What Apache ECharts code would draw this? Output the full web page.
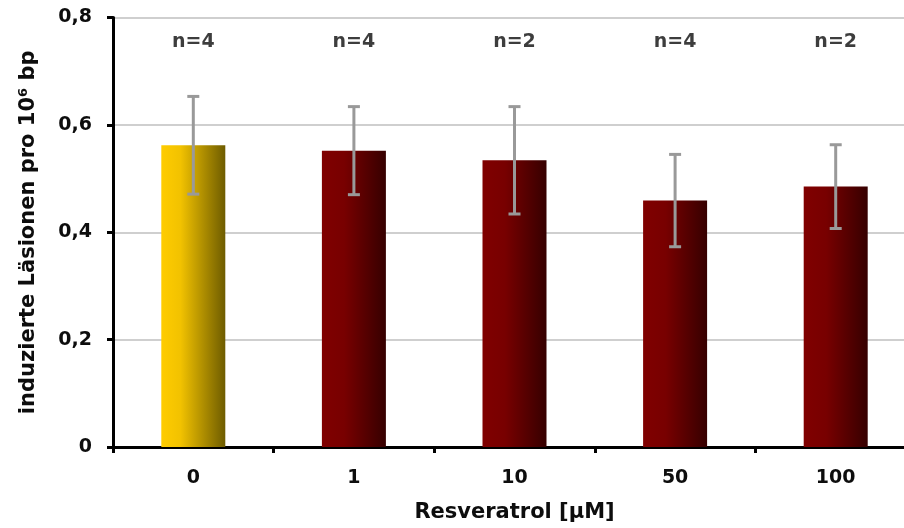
<!DOCTYPE html>
<html>
<head>
<meta charset="utf-8">
<script src="https://cdn.jsdelivr.net/npm/echarts@6/dist/echarts.min.js"></script>
<style>html,body{margin:0;padding:0;background:#fff;overflow:hidden;width:904px;height:528px}#c{width:920px;height:528px}</style>
</head>
<body>
<div id="c"></div>
<script>
const categories = ['0', '1', '10', '50', '100'];
const means = [0.562, 0.552, 0.534, 0.459, 0.485];
const errors = [0.091, 0.082, 0.100, 0.086, 0.078];
const nLabels = ['n=4', 'n=4', 'n=2', 'n=4', 'n=2'];
const yTicks = [0, 0.2, 0.4, 0.6, 0.8];
const nLabelLevel = 0.755;

const FONT = "'DejaVu Sans', sans-serif";
const TXT = '#0d0d0d';
const yellowGrad = new echarts.graphic.LinearGradient(0, 0, 1, 0, [
  {offset: 0, color: '#FFCC00'}, {offset: 0.3, color: '#F2C200'}, {offset: 1, color: '#6E5C00'}
]);
const redGrad = new echarts.graphic.LinearGradient(0, 0, 1, 0, [
  {offset: 0, color: '#800000'}, {offset: 0.35, color: '#780000'}, {offset: 1, color: '#360000'}
]);

const chart = echarts.init(document.getElementById('c'), null, {renderer: 'canvas'});
chart.setOption({
  animation: false,
  grid: {left: 113, top: 17.5, width: 803, height: 431.5},
  xAxis: {
    type: 'category',
    data: categories,
    name: 'Resveratrol [µM]',
    nameLocation: 'middle',
    nameGap: 55,
    nameTextStyle: {fontFamily: FONT, fontWeight: 'bold', fontSize: 21, color: TXT},
    axisLine: {lineStyle: {color: '#000', width: 3}},
    axisTick: {show: true, inside: false, length: 6, lineStyle: {color: '#000', width: 3}},
    axisLabel: {fontFamily: FONT, fontWeight: 'bold', fontSize: 19, color: TXT, margin: 22},
    splitLine: {show: false}
  },
  yAxis: {
    type: 'value',
    min: 0, max: 0.8, interval: 0.2,
    name: 'induzierte Läsionen pro 10⁶ bp',
    nameLocation: 'middle',
    nameGap: 74,
    nameTextStyle: {fontFamily: FONT, fontWeight: 'bold', fontSize: 21, color: TXT},
    axisLine: {show: true, lineStyle: {color: '#000', width: 3}},
    axisTick: {show: true, inside: false, length: 6, lineStyle: {color: '#000', width: 3}},
    axisLabel: {
      fontFamily: FONT, fontWeight: 'bold', fontSize: 19, color: TXT, margin: 21,
      formatter: v => {
        const t = yTicks.find(x => Math.abs(x - v) < 1e-9);
        return t === 0 ? '0' : String(t).replace('.', ',');
      }
    },
    splitLine: {show: true, lineStyle: {color: '#cfcfcf', width: 2}}
  },
  series: [
    {
      type: 'bar',
      barWidth: 64,
      data: means.map((v, i) => ({value: v, itemStyle: {color: i === 0 ? yellowGrad : redGrad}})),
      z: 2
    },
    {
      type: 'custom',
      z: 5,
      data: means.map((m, i) => [i, m - errors[i], m + errors[i]]),
      renderItem: (params, api) => {
        const x = api.value(0);
        const lo = api.coord([x, api.value(1)]);
        const hi = api.coord([x, api.value(2)]);
        const style = {stroke: '#999999', lineWidth: 3};
        const cap = 6;
        return {
          type: 'group',
          children: [
            {type: 'line', shape: {x1: lo[0], y1: lo[1], x2: hi[0], y2: hi[1]}, style},
            {type: 'line', shape: {x1: lo[0] - cap, y1: lo[1], x2: lo[0] + cap, y2: lo[1]}, style},
            {type: 'line', shape: {x1: hi[0] - cap, y1: hi[1], x2: hi[0] + cap, y2: hi[1]}, style}
          ]
        };
      }
    },
    {
      type: 'scatter',
      symbolSize: 0,
      data: nLabels.map((t, i) => [i, nLabelLevel]),
      label: {
        show: true, position: 'inside',
        formatter: p => nLabels[p.dataIndex],
        fontFamily: FONT, fontWeight: 'bold', fontSize: 19, color: TXT
      },
      z: 6
    }
  ]
});
</script>
</body>
</html>
